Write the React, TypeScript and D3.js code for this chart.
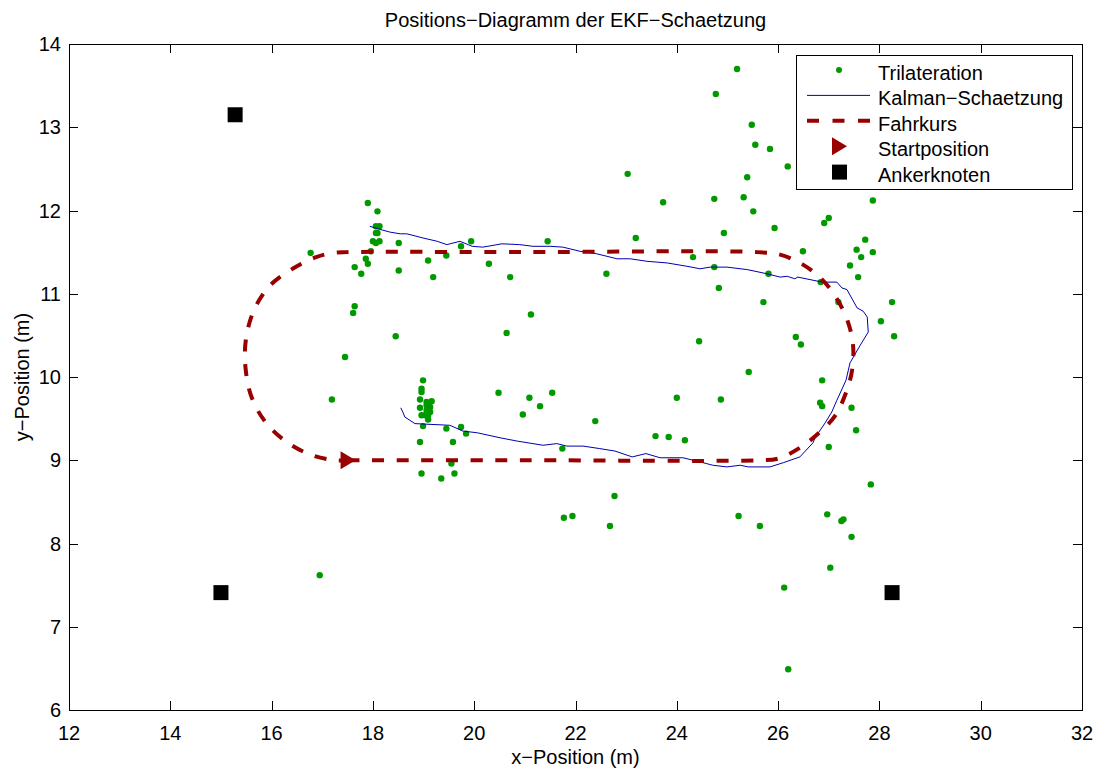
import React, { useEffect, useRef } from 'react';
import * as d3 from 'd3';

type Pt = [number, number];

// Trilateration fixes (x, y) in m
const trilateration: Pt[] = [
  [17.90, 12.09], [18.09, 11.99], [18.06, 11.81], [18.13, 11.81], [18.06, 11.73],
  [18.09, 11.73], [18.00, 11.63], [18.13, 11.63], [18.06, 11.61], [16.77, 11.49],
  [17.96, 11.51], [18.51, 11.61], [17.86, 11.42], [17.90, 11.36], [17.64, 11.32],
  [17.77, 11.24], [18.51, 11.28], [19.09, 11.40], [19.19, 11.20], [19.45, 11.46],
  [19.74, 11.57], [19.94, 11.63], [20.29, 11.36], [20.71, 11.20], [17.64, 10.85],
  [17.61, 10.77], [18.45, 10.49], [17.45, 10.24], [17.19, 9.73], [18.99, 9.96],
  [18.96, 9.86], [18.96, 9.82], [18.93, 9.73], [18.93, 9.63], [19.06, 9.70],
  [19.16, 9.71], [19.06, 9.66], [19.13, 9.64], [19.06, 9.60], [19.13, 9.58],
  [19.03, 9.54], [19.09, 9.54], [19.09, 9.49], [18.96, 9.54], [18.99, 9.41],
  [19.45, 9.38], [19.74, 9.40], [19.84, 9.32], [18.93, 9.22], [19.58, 9.22],
  [19.55, 8.96], [18.96, 8.84], [19.61, 8.84], [19.35, 8.78], [20.48, 9.81],
  [20.64, 10.53], [21.12, 10.75], [21.09, 9.75], [20.96, 9.55], [21.30, 9.65],
  [21.54, 9.81], [22.39, 9.47], [21.74, 9.14], [24.44, 10.43], [25.42, 10.06],
  [24.00, 9.75], [24.87, 9.73], [23.58, 9.29], [23.84, 9.28], [24.16, 9.24],
  [22.77, 8.57], [21.77, 8.31], [21.94, 8.33], [22.68, 8.21], [25.22, 8.33],
  [25.64, 8.21], [23.03, 12.44], [23.73, 12.10], [24.74, 12.14], [25.32, 12.16],
  [25.39, 12.40], [25.51, 11.99], [25.93, 11.79], [24.93, 11.73], [23.19, 11.67],
  [21.45, 11.63], [22.61, 11.24], [24.32, 11.44], [24.74, 11.32], [24.83, 11.07],
  [25.81, 11.24], [25.71, 10.90], [25.19, 13.70], [24.77, 13.40], [25.48, 13.03],
  [25.55, 12.79], [25.84, 12.74], [26.19, 12.53], [27.87, 12.12], [27.00, 11.91],
  [26.91, 11.85], [27.72, 11.65], [27.55, 11.53], [27.87, 11.50], [27.64, 11.44],
  [26.49, 11.51], [27.42, 11.34], [27.58, 11.20], [26.84, 11.14], [28.25, 10.90],
  [27.19, 10.90], [28.03, 10.67], [28.29, 10.49], [26.35, 10.48], [26.45, 10.39],
  [26.87, 9.96], [26.83, 9.69], [26.87, 9.65], [27.45, 9.63], [27.54, 9.36],
  [27.00, 9.16], [27.83, 8.71], [26.97, 8.35], [27.29, 8.29], [27.25, 8.27],
  [27.45, 8.08], [27.03, 7.71], [26.12, 7.47], [26.20, 6.49], [16.95, 7.62],
];

// EKF estimate, in driving order
const kalman: Pt[] = [
  [18.55, 9.63], [18.59, 9.58], [18.63, 9.52], [18.83, 9.44], [19.52, 9.42], [19.78, 9.35],
  [20.06, 9.33], [20.51, 9.27], [20.85, 9.23], [21.36, 9.18], [21.63, 9.20],
  [21.83, 9.17], [22.15, 9.17], [22.48, 9.14], [22.78, 9.11], [23.12, 9.04],
  [23.39, 9.08], [23.67, 9.03], [24.12, 9.03], [24.46, 8.98], [24.71, 8.94],
  [24.99, 8.92], [25.25, 8.94], [25.41, 8.92], [25.84, 8.92], [26.10, 8.97],
  [26.43, 9.04], [26.69, 9.21], [26.73, 9.27], [26.93, 9.45], [27.06, 9.58],
  [27.16, 9.72], [27.34, 9.96], [27.42, 10.17], [27.62, 10.38], [27.78, 10.54],
  [27.76, 10.72], [27.68, 10.79], [27.56, 10.83], [27.36, 11.05], [27.26, 11.07],
  [27.16, 11.14], [26.87, 11.14], [26.39, 11.20], [26.33, 11.18], [26.18, 11.21],
  [26.04, 11.20], [25.78, 11.24], [25.39, 11.29], [24.99, 11.32], [24.66, 11.32],
  [24.46, 11.30], [24.20, 11.33], [23.81, 11.37], [23.41, 11.39], [23.08, 11.42],
  [22.82, 11.42], [22.42, 11.48], [22.09, 11.51], [21.75, 11.56], [21.50, 11.57],
  [21.16, 11.57], [20.90, 11.59], [20.55, 11.60], [20.17, 11.56], [19.96, 11.57],
  [19.72, 11.63], [19.46, 11.59], [19.27, 11.63], [18.99, 11.67], [18.67, 11.72],
  [18.54, 11.72], [18.34, 11.74], [18.10, 11.78], [17.94, 11.81],
];

// planned course (Fahrkurs), waypoints
const course: Pt[] = [
  [17.5, 9.0], [21.0, 9.0], [25.6, 9.0], [26.0, 9.02], [26.43, 9.15], [26.81, 9.33],
  [27.12, 9.53], [27.34, 9.81], [27.46, 10.08], [27.48, 10.38], [27.38, 10.66],
  [27.16, 10.94], [26.87, 11.17], [26.49, 11.35], [26.04, 11.47], [25.58, 11.5],
  [21.0, 11.5], [17.5, 11.5], [17.21, 11.49], [16.88, 11.44], [16.44, 11.31],
  [15.97, 11.1], [15.65, 10.8], [15.49, 10.44], [15.49, 10.08], [15.61, 9.75],
  [15.89, 9.45], [16.32, 9.21], [16.80, 9.06], [17.25, 9.0], [17.5, 9.0],
];

const startPos: Pt = [17.5, 9.0];
const anchors: Pt[] = [[15.28, 13.15], [15.0, 7.41], [28.25, 7.41]];

const xTicks = [12, 14, 16, 18, 20, 22, 24, 26, 28, 30, 32];
const yTicks = [6, 7, 8, 9, 10, 11, 12, 13, 14];
const legendLabels = ['Trilateration', 'Kalman\u2212Schaetzung', 'Fahrkurs', 'Startposition', 'Ankerknoten'];

const GREEN = '#009900';
const BLUE = '#0000b0';
const RED = '#990000';
const FONT = '"Liberation Sans", Arial, Helvetica, sans-serif';

const App = () => {
  const svgRef = useRef<SVGSVGElement | null>(null);

  useEffect(() => {
    const width = 1102;
    const height = 771;
    const plot = { left: 69, top: 44, right: 1082, bottom: 710 };

    const svg = d3.select(svgRef.current).attr('width', width).attr('height', height);
    svg.selectAll('*').remove();

    const x = d3.scaleLinear().domain([12, 32]).range([plot.left, plot.right]);
    const y = d3.scaleLinear().domain([6, 14]).range([plot.bottom, plot.top]);

    svg.append('rect').attr('width', width).attr('height', height).attr('fill', '#fff');

    // data
    svg.append('g')
      .selectAll('circle')
      .data(trilateration)
      .enter()
      .append('circle')
      .attr('cx', d => x(d[0]))
      .attr('cy', d => y(d[1]))
      .attr('r', 3.2)
      .attr('fill', GREEN);

    const line = d3.line<Pt>().x(d => x(d[0])).y(d => y(d[1]));

    svg.append('path')
      .attr('d', line(kalman))
      .attr('fill', 'none')
      .attr('stroke', BLUE)
      .attr('stroke-width', 1);

    svg.append('path')
      .attr('d', line.curve(d3.curveCatmullRom.alpha(0.5))(course))
      .attr('fill', 'none')
      .attr('stroke', RED)
      .attr('stroke-width', 4)
      .attr('stroke-dasharray', '12 12.6');

    const tri = (cx: number, cy: number) => `M${cx - 7},${cy - 9}L${cx + 8},${cy}L${cx - 7},${cy + 9}Z`;

    svg.append('path')
      .attr('d', tri(x(startPos[0]), y(startPos[1])))
      .attr('fill', RED);

    svg.append('g')
      .selectAll('rect')
      .data(anchors)
      .enter()
      .append('rect')
      .attr('x', d => x(d[0]) - 7.5)
      .attr('y', d => y(d[1]) - 7.5)
      .attr('width', 15)
      .attr('height', 15)
      .attr('fill', '#000');

    // axes box with inward ticks on all sides
    const axes = svg.append('g').attr('stroke', '#000').attr('stroke-width', 1);
    const tickLen = 9;
    xTicks.forEach(t => {
      const px = Math.round(x(t)) + 0.5;
      axes.append('line').attr('x1', px).attr('x2', px).attr('y1', plot.bottom).attr('y2', plot.bottom - tickLen);
      axes.append('line').attr('x1', px).attr('x2', px).attr('y1', plot.top).attr('y2', plot.top + tickLen);
    });
    yTicks.forEach(t => {
      const py = Math.round(y(t)) + 0.5;
      axes.append('line').attr('x1', plot.left).attr('x2', plot.left + tickLen).attr('y1', py).attr('y2', py);
      axes.append('line').attr('x1', plot.right).attr('x2', plot.right - tickLen).attr('y1', py).attr('y2', py);
    });
    axes.append('rect')
      .attr('x', plot.left + 0.5)
      .attr('y', plot.top + 0.5)
      .attr('width', plot.right - plot.left)
      .attr('height', plot.bottom - plot.top)
      .attr('fill', 'none');

    const txt = svg.append('g').attr('font-family', FONT).attr('fill', '#000');

    txt.selectAll('.xt')
      .data(xTicks)
      .enter()
      .append('text')
      .attr('x', d => x(d))
      .attr('y', plot.bottom + 30)
      .attr('text-anchor', 'middle')
      .attr('font-size', 20)
      .text(d => d);

    txt.selectAll('.yt')
      .data(yTicks)
      .enter()
      .append('text')
      .attr('x', plot.left - 8)
      .attr('y', d => y(d) + 7)
      .attr('text-anchor', 'end')
      .attr('font-size', 20)
      .text(d => d);

    txt.append('text')
      .attr('x', (plot.left + plot.right) / 2)
      .attr('y', 27)
      .attr('text-anchor', 'middle')
      .attr('font-size', 20)
      .text('Positions\u2212Diagramm der EKF\u2212Schaetzung');

    txt.append('text')
      .attr('x', (plot.left + plot.right) / 2)
      .attr('y', 764)
      .attr('text-anchor', 'middle')
      .attr('font-size', 20)
      .text('x\u2212Position (m)');

    txt.append('text')
      .attr('transform', `translate(29,${(plot.top + plot.bottom) / 2}) rotate(-90)`)
      .attr('text-anchor', 'middle')
      .attr('font-size', 20)
      .text('y\u2212Position (m)');

    // legend
    const lg = svg.append('g');
    lg.append('rect')
      .attr('x', 796.5)
      .attr('y', 55.5)
      .attr('width', 276)
      .attr('height', 134)
      .attr('fill', '#fff')
      .attr('stroke', '#000')
      .attr('stroke-width', 1);

    legendLabels.forEach((label, i) => {
      const base = 80 + i * 25.4;
      const sy = base - 10;
      if (i === 0) lg.append('circle').attr('cx', 839).attr('cy', sy).attr('r', 3).attr('fill', GREEN);
      if (i === 1) lg.append('line').attr('x1', 807).attr('x2', 870).attr('y1', sy).attr('y2', sy).attr('stroke', BLUE).attr('stroke-width', 1);
      if (i === 2) lg.append('line').attr('x1', 807).attr('x2', 870).attr('y1', sy).attr('y2', sy).attr('stroke', RED).attr('stroke-width', 4).attr('stroke-dasharray', '12 13.5');
      if (i === 3) lg.append('path').attr('d', tri(839, sy)).attr('fill', RED);
      if (i === 4) lg.append('rect').attr('x', 832).attr('y', sy - 7).attr('width', 15).attr('height', 15).attr('fill', '#000');
      lg.append('text')
        .attr('x', 878)
        .attr('y', base)
        .attr('font-family', FONT)
        .attr('font-size', 20)
        .text(label);
    });
  }, []);

  return (
    <svg ref={svgRef} width={1102} height={771} style={{ position: 'absolute', left: 0, top: 0 }}></svg>
  );
};

export default App;
